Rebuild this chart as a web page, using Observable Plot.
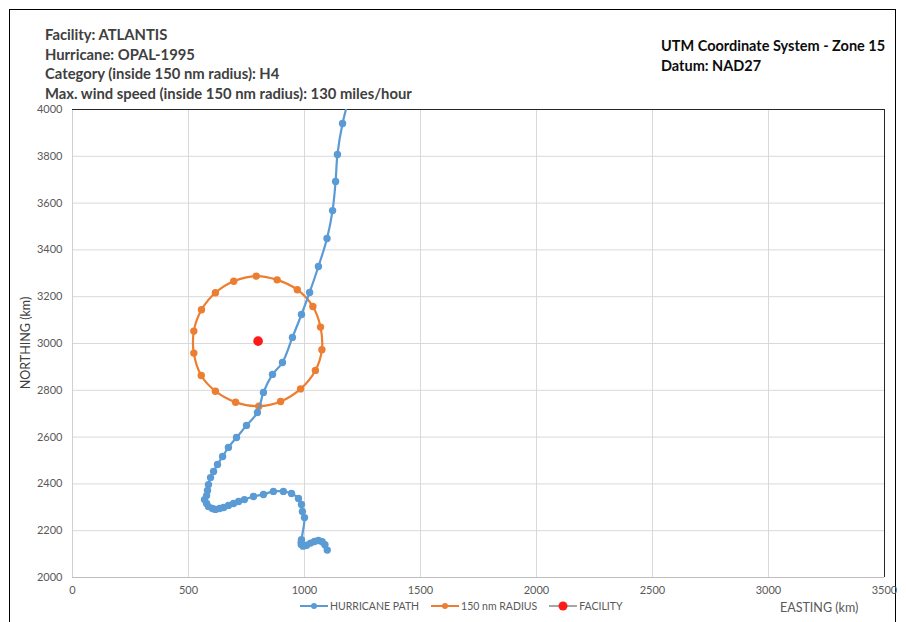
<!DOCTYPE html>
<html>
<head>
<meta charset="utf-8">
<script src="https://cdn.jsdelivr.net/npm/d3@7"></script>
<script src="https://cdn.jsdelivr.net/npm/@observablehq/plot@0.6"></script>
<style>
  html, body { margin: 0; padding: 0; background: #fff; }
  #frame { position: relative; width: 906px; height: 622px; overflow: hidden; font-family: Lato, "Liberation Sans", sans-serif; }
  #border { position: absolute; left: 9px; top: 9px; width: 887px; height: 640px; border: 1px solid #000; box-sizing: border-box; }
  .hdr { position: absolute; font-weight: bold; line-height: 19.5px; white-space: nowrap; }
  #info { left: 45px; top: 25px; color: #404040; font-size: 14.8px; }
  #utm { left: 661px; top: 36px; color: #0d0d0d; font-size: 14.5px; }
  #chart { position: absolute; left: 0; top: 100px; }
  #ytitle { position: absolute; left: 25px; top: 343px; transform: translate(-50%, -50%) rotate(-90deg); font-size: 12.5px; color: #404040; white-space: nowrap; }
  #xtitle { position: absolute; left: 780px; top: 600px; font-size: 12.5px; color: #595959; white-space: nowrap; }
  #legend { position: absolute; left: 299px; top: 600px; display: flex; align-items: center; gap: 11px; font-size: 10.5px; color: #595959; white-space: nowrap; }
  #legend span.item { display: flex; align-items: center; gap: 1px; }
</style>
</head>
<body>
<div id="frame">
  <div id="border"></div>
  <div id="info" class="hdr">
    <div>Facility: ATLANTIS</div>
    <div>Hurricane: OPAL-1995</div>
    <div>Category (inside 150 nm radius): H4</div>
    <div>Max. wind speed (inside 150 nm radius): 130 miles/hour</div>
  </div>
  <div id="utm" class="hdr">
    <div>UTM Coordinate System - Zone 15</div>
    <div>Datum: NAD27</div>
  </div>
  <div id="chart"></div>
  <div id="ytitle">NORTHING (km)</div>
  <div id="xtitle">EASTING (km)</div>
  <div id="legend"></div>
</div>
<script>
// Hurricane track positions (UTM zone 15, km), in time order
const pathEasting = [1098, 1088, 1076, 1060, 1043, 1026, 1009, 994, 986, 986, 987,
  1000, 991, 987, 974, 944, 909, 866, 823, 780, 741, 716, 694, 672, 651, 634, 616,
  603, 586, 578, 569, 578, 582, 586, 595, 608, 625, 647, 672, 707, 750, 797, 823,
  862, 905, 948, 987, 1022, 1060, 1097, 1121, 1134, 1142, 1164, 1207];
const pathNorthing = [2117, 2140, 2153, 2158, 2154, 2147, 2138, 2134, 2141, 2151, 2162,
  2256, 2282, 2312, 2338, 2359, 2368, 2368, 2355, 2346, 2333, 2325, 2316, 2308, 2299, 2295, 2291,
  2295, 2303, 2316, 2333, 2350, 2372, 2397, 2427, 2453, 2483, 2517, 2556, 2598, 2650, 2705, 2791,
  2868, 2919, 3026, 3124, 3218, 3329, 3449, 3568, 3692, 3808, 3940, 4103];

// 150 nm radius around the facility
const radiusEasting = [792, 882, 969, 1036, 1069, 1075, 1047, 983, 897, 803, 703, 616, 555, 523, 523, 556, 616, 695];
const radiusNorthing = [3288, 3272, 3230, 3158, 3070, 2973, 2885, 2806, 2752, 2732, 2749, 2796, 2863, 2959, 3053, 3144, 3217, 3266];

// Facility location
const facilityEasting = [800];
const facilityNorthing = [3010];

// Axis ticks
const xTicks = [0, 500, 1000, 1500, 2000, 2500, 3000, 3500];
const yTicks = [2000, 2200, 2400, 2600, 2800, 3000, 3200, 3400, 3600, 3800, 4000];

const blue = "#5b9bd5", orange = "#ed7d31", red = "#ff1a1a";

const path = pathEasting.map((e, i) => ({e, n: pathNorthing[i]}));
const radius = radiusEasting.map((e, i) => ({e, n: radiusNorthing[i]}));
const facility = facilityEasting.map((e, i) => ({e, n: facilityNorthing[i]}));

const chart = Plot.plot({
  width: 906,
  height: 522,
  marginTop: 9,
  marginBottom: 45,
  marginLeft: 72,
  marginRight: 22,
  style: {fontFamily: "Lato, 'Liberation Sans', sans-serif", fontSize: "11px", color: "#595959", background: "transparent"},
  x: {domain: [0, 3500]},
  y: {domain: [2000, 4000]},
  marks: [
    Plot.gridX(xTicks, {stroke: "#d9d9d9", strokeOpacity: 1}),
    Plot.gridY(yTicks, {stroke: "#d9d9d9", strokeOpacity: 1}),
    Plot.ruleX([0], {stroke: "#d0d0d0"}),
    Plot.ruleY([2000], {stroke: "#bfbfbf"}),
    Plot.ruleY([4000], {stroke: "#262626"}),
    Plot.ruleX([3500], {stroke: "#262626"}),
    Plot.axisX({ticks: xTicks, tickSize: 0, tickPadding: 9, label: null, tickFormat: d => String(d)}),
    Plot.axisY({ticks: yTicks, tickSize: 0, tickPadding: 10, label: null, tickFormat: d => String(d)}),
    Plot.line(radius, {x: "e", y: "n", stroke: orange, strokeWidth: 2.2, curve: "catmull-rom-closed"}),
    Plot.dot(radius, {x: "e", y: "n", fill: orange, r: 3.7}),
    Plot.line(path, {x: "e", y: "n", stroke: blue, strokeWidth: 2.2, curve: "catmull-rom", clip: true}),
    Plot.dot(path, {x: "e", y: "n", fill: blue, r: 3.7, clip: true}),
    Plot.dot(facility, {x: "e", y: "n", fill: red, r: 4.8})
  ]
});
document.getElementById("chart").appendChild(chart);

// Legend entries: line swatch with a centred marker
const legendItems = [
  {label: "HURRICANE PATH", line: blue, dot: blue, r: 3},
  {label: "150 nm RADIUS", line: orange, dot: orange, r: 3},
  {label: "FACILITY", line: "#a6a6a6", dot: red, r: 4.5}
];
const legend = document.getElementById("legend");
for (const it of legendItems) {
  const item = document.createElement("span");
  item.className = "item";
  item.innerHTML = `<svg width="30" height="12"><line x1="1" x2="29" y1="6" y2="6" stroke="${it.line}" stroke-width="2"/><circle cx="15" cy="6" r="${it.r}" fill="${it.dot}"/></svg><span>${it.label}</span>`;
  legend.appendChild(item);
}
</script>
</body>
</html>
